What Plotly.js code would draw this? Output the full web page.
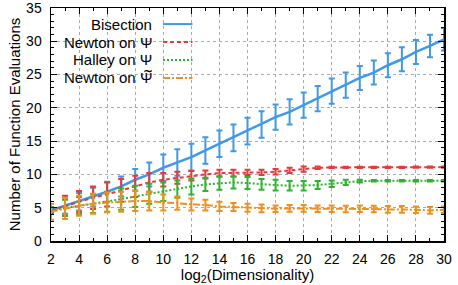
<!DOCTYPE html>
<html><head><meta charset="utf-8">
<script src="https://cdn.plot.ly/plotly-3.0.1.min.js"></script>
<style>html,body{margin:0;padding:0;background:#fff}#c{width:458px;height:285px}</style>
</head><body><div id="c"></div>
<script>
const xs = [2,3,4,5,6,7,8,9,10,11,12,13,14,15,16,17,18,19,20,21,22,23,24,25,26,27,28,29,30];
const seriesNames = ["Bisection", "Newton on Ψ", "Halley on Ψ", "Newton on Ψ̃"];
const bisection = [4.6,5.3,5.9,6.6,7.4,8.2,9.2,10.0,11.0,11.8,12.6,13.6,14.6,15.5,16.5,17.5,18.6,19.4,20.4,21.4,22.5,23.4,24.5,25.3,26.4,27.3,28.4,29.3,30.3];
const bisectionErr = [0.4,1.2,1.3,1.4,1.5,1.5,1.6,1.8,2.0,2.0,2.0,2.0,2.0,2.0,2.0,2.0,1.9,1.9,1.9,1.9,1.9,1.9,1.8,1.8,1.8,1.8,1.8,1.7,1.7];
const newtonPsi = [4.6,5.3,5.9,6.5,7.0,7.6,8.2,8.8,9.2,9.5,9.8,10.0,10.2,10.2,10.3,10.3,10.4,10.6,10.8,11.0,11.05,11.05,11.05,11.05,11.05,11.05,11.1,11.1,11.1];
const newtonPsiErr = [0.5,1.5,1.6,1.7,1.8,1.7,1.6,1.4,1.0,0.9,0.7,0.6,0.5,0.5,0.4,0.4,0.4,0.4,0.4,0.2,0.1,0.1,0.1,0.1,0.1,0.1,0.1,0.1,0.1];
const halleyPsi = [4.6,5.0,5.3,5.6,5.9,6.3,6.7,7.1,7.4,7.8,8.2,8.5,8.7,8.8,8.7,8.5,8.4,8.3,8.3,8.4,8.6,8.8,9.0,9.05,9.05,9.05,9.05,9.05,9.05];
const halleyPsiErr = [0.5,1.2,1.3,1.4,1.5,1.6,1.6,1.5,1.4,1.3,1.2,1.0,1.0,0.9,0.9,0.8,0.8,0.7,0.7,0.6,0.5,0.4,0.2,0.1,0.1,0.1,0.1,0.1,0.1];
const newtonPsiT = [4.4,4.9,5.3,5.6,5.8,5.9,6.0,6.0,5.8,5.7,5.5,5.4,5.2,5.1,5.0,4.9,4.85,4.9,4.9,4.85,4.85,4.8,4.85,4.8,4.75,4.75,4.7,4.6,4.7];
const newtonPsiTErr = [1.2,1.6,1.5,1.5,1.5,1.5,1.5,1.4,1.2,1.0,0.9,0.8,0.7,0.6,0.6,0.6,0.5,0.5,0.5,0.5,0.5,0.5,0.5,0.5,0.5,0.5,0.5,0.5,0.5];
const xTicks = [2,4,6,8,10,12,14,16,18,20,22,24,26,28,30];
const yTicks = [0,5,10,15,20,25,30,35];

const colors = ["#4198e6", "#e8383d", "#2db32d", "#f0901c"];
const dashes = ["solid", "4px,3px", "2px,2px", "7px,2px,2px,2px"];
const ys = [bisection, newtonPsi, halleyPsi, newtonPsiT];
const errs = [bisectionErr, newtonPsiErr, halleyPsiErr, newtonPsiTErr];

const traces = ys.map((y, i) => ({
  x: xs, y: y, type: "scatter", mode: "lines", name: seriesNames[i],
  line: {color: colors[i], width: i === 0 ? 2.5 : 2, dash: dashes[i]},
  error_y: {type: "data", array: errs[i], visible: true, color: colors[i], thickness: 2, width: 3},
  showlegend: false
}));

const font = "Liberation Sans, Arial, sans-serif";
const legendRowsY = [0.931, 0.854, 0.777, 0.700];
const annotations = seriesNames.map((n, i) => ({
  xref: "paper", yref: "paper", x: 0.262, y: legendRowsY[i], xanchor: "right", yanchor: "middle",
  text: n.replace("\u0303", ""), showarrow: false, font: {family: font, size: 15, color: "#000"}
}));
// tilde over the last Ψ, drawn as its own text
annotations.push({xref: "paper", yref: "paper", x: 0.2465, y: 0.731, xanchor: "center", yanchor: "middle",
  text: "<b>~</b>", showarrow: false, font: {family: "DejaVu Sans, sans-serif", size: 12, color: "#000"}});
const shapes = [{type: "rect", xref: "paper", yref: "paper", x0: 0, x1: 0.37, y0: 0.655, y1: 1, fillcolor: "#fff", line: {width: 0}, layer: "between"}]
  .concat(seriesNames.map((n, i) => ({
    type: "line", xref: "paper", yref: "paper", x0: 0.285, x1: 0.36, y0: legendRowsY[i], y1: legendRowsY[i],
    line: {color: colors[i], width: 2, dash: dashes[i]}
  })));

const axisCommon = {
  showline: true, linecolor: "#000", linewidth: 1.5, mirror: "allticks", ticks: "inside", ticklen: 6, tickwidth: 1, tickcolor: "#000",
  showgrid: true, gridcolor: "#aaa", griddash: "dot", gridwidth: 1, zeroline: false,
  ticklabeloverflow: "allow", ticklabelstandoff: 5,
  tickfont: {family: font, size: 14, color: "#000"}
};
const layout = {
  width: 458, height: 285, margin: {l: 51, r: 14, t: 8, b: 44},
  paper_bgcolor: "#fff", plot_bgcolor: "#fff",
  xaxis: Object.assign({}, axisCommon, {range: [2, 30], tickvals: xTicks, ticktext: xTicks.map(String),
    minor: {dtick: 1, ticks: "inside", ticklen: 3, tickcolor: "#000", showgrid: false},
    title: {text: "log<sub>2</sub>(Dimensionality)", font: {family: font, size: 15, color: "#000"}, standoff: 1}}),
  yaxis: Object.assign({}, axisCommon, {range: [0, 35], tickvals: yTicks, ticktext: yTicks.map(String),
    minor: {dtick: 1, ticks: "inside", ticklen: 3, tickcolor: "#000", showgrid: false},
    title: {text: "Number of Function Evaluations", font: {family: font, size: 15, color: "#000"}, standoff: 2}}),
  annotations: annotations, shapes: shapes, showlegend: false
};
Plotly.newPlot("c", traces, layout, {staticPlot: true, displayModeBar: false});
</script></body></html>
